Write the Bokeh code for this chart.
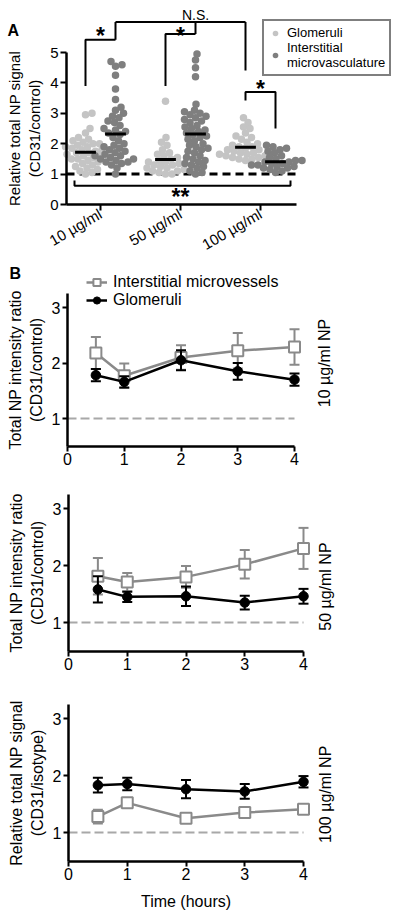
import numpy as np
from bokeh.plotting import figure
from bokeh.models import (Label, Legend, LegendItem, FixedTicker, Range1d)
from bokeh.layouts import column
from bokeh.embed import file_html
from bokeh.resources import INLINE

FONT = "Liberation Sans"

# ---------------- Panel A data ----------------
doses = ["10 µg/ml", "50 µg/ml", "100 µg/ml"]
glom_10 = [3.0, 2.95, 2.5, 2.35, 2.2, 2.15, 2.1, 2.05, 2.0, 2.0, 1.95, 1.9, 1.9, 1.85, 1.8, 1.8,
           1.75, 1.7, 1.7, 1.65, 1.6, 1.6, 1.55, 1.5, 1.5, 1.45, 1.4, 1.35, 1.3, 1.25, 1.2, 1.15,
           1.1, 1.05, 1.0]
inter_10 = [4.7, 4.6, 4.55, 4.25, 3.8, 3.45, 3.2, 3.1, 3.0, 2.9, 2.85, 2.75, 2.7, 2.6, 2.5, 2.45,
            2.4, 2.35, 2.3, 2.2, 2.1, 2.0, 1.95, 1.9, 1.85, 1.8, 1.75, 1.7, 1.65, 1.6, 1.6, 1.55,
            1.5, 1.5, 1.45, 1.4, 1.4, 1.35, 1.3, 1.2, 1.0]
glom_50 = [3.4, 2.2, 2.05, 1.95, 1.8, 1.7, 1.65, 1.6, 1.55, 1.5, 1.45, 1.4, 1.4, 1.35, 1.3, 1.3,
           1.25, 1.2, 1.2, 1.15, 1.1, 1.1, 1.05, 1.0, 1.0]
inter_50 = [4.95, 4.75, 4.5, 4.2, 3.3, 3.1, 3.05, 3.0, 2.95, 2.9, 2.85, 2.8, 2.75, 2.7, 2.6, 2.55,
            2.5, 2.45, 2.4, 2.35, 2.3, 2.25, 2.2, 2.15, 2.1, 2.0, 1.95, 1.9, 1.85, 1.8, 1.75, 1.7,
            1.6, 1.55, 1.5, 1.45, 1.4, 1.35, 1.3, 1.25, 1.2, 1.1, 1.05, 1.0]
glom_100 = [2.85, 2.7, 2.55, 2.5, 2.35, 2.25, 2.2, 2.15, 2.05, 2.0, 1.95, 1.9, 1.9, 1.85, 1.8, 1.8,
            1.75, 1.7, 1.7, 1.7, 1.65, 1.65, 1.6, 1.6, 1.6, 1.55, 1.55, 1.5, 1.5, 1.45]
inter_100 = [1.95, 1.9, 1.85, 1.8, 1.75, 1.7, 1.6, 1.55, 1.5, 1.45, 1.45, 1.4, 1.4, 1.35, 1.35,
             1.3, 1.3, 1.25, 1.25, 1.2, 1.2, 1.15, 1.1, 1.05]
mean_glom = [1.72, 1.48, 1.88]
mean_inter = [2.32, 2.32, 1.41]

# ---------------- Panel B data ----------------
time_h = [0.5, 1, 2, 3, 4]
b10_inter = [2.18, 1.77, 2.10, 2.22, 2.29]
b10_inter_err = [0.29, 0.22, 0.22, 0.32, 0.32]
b10_glom = [1.78, 1.66, 2.05, 1.85, 1.70]
b10_glom_err = [0.11, 0.10, 0.18, 0.15, 0.11]
b50_inter = [1.81, 1.71, 1.80, 2.02, 2.30]
b50_inter_err = [0.32, 0.16, 0.19, 0.25, 0.36]
b50_glom = [1.58, 1.45, 1.46, 1.35, 1.46]
b50_glom_err = [0.23, 0.09, 0.17, 0.12, 0.13]
b100_inter = [1.28, 1.52, 1.25, 1.35, 1.41]
b100_inter_err = [0.12, 0.05, 0.03, 0.04, 0.04]
b100_glom = [1.83, 1.85, 1.76, 1.72, 1.89]
b100_glom_err = [0.13, 0.11, 0.16, 0.13, 0.10]

LIGHT = "#c4c4c4"
DARK = "#7f7f7f"
GRAYLINE = "#8a8a8a"
DASHGRAY = "#a8a8a8"
W = 400


def style_axes(p, size="15px"):
    for ax in (p.xaxis[0], p.yaxis[0]):
        ax.axis_line_width = 2.5
        ax.major_tick_line_width = 2
        ax.major_tick_out = 6
        ax.major_tick_in = 0
        ax.minor_tick_line_color = None
        ax.major_label_text_font = FONT
        ax.major_label_text_font_size = size
        ax.major_label_text_color = "black"
        ax.axis_label_text_font = FONT
        ax.axis_label_text_font_style = "normal"
        ax.axis_label_text_color = "black"
        ax.major_label_standoff = 2
    p.grid.visible = False
    p.outline_line_color = None


def make_fig(height, x_start, pxx, y_end, pxy):
    return figure(width=W, height=height, output_backend="svg", toolbar_location=None,
                  x_range=Range1d(x_start, x_start + W / pxx),
                  y_range=Range1d(y_end - height / pxy, y_end),
                  min_border_left=0, min_border_right=0, min_border_top=0, min_border_bottom=0)


# ---------------- Panel A ----------------
PXA = 80.0    # px per group unit
PYA = 30.4    # px per y unit
OFF = 0.1875
HA = 256
XA0 = 1 - 100 / PXA          # data x at the left edge of the figure
YA1 = 204 / PYA              # data y at the top edge of the figure
X_AX = 0.575                 # data x where the y axis sits
X_END = 3.45

pA = make_fig(HA, XA0, PXA, YA1, PYA)
style_axes(pA)
pA.xaxis.fixed_location = 0
pA.yaxis.fixed_location = X_AX
pA.xaxis.ticker = FixedTicker(ticks=[1, 2, 3])
pA.xaxis.major_label_overrides = {i + 1: d for i, d in enumerate(doses)}
pA.xaxis.major_label_orientation = np.pi / 6
pA.xaxis.bounds = (X_AX, X_END)
pA.yaxis.ticker = FixedTicker(ticks=[0, 1, 2, 3, 4, 5])
pA.yaxis.bounds = (0, 5)
pA.yaxis.axis_label = "Relative total NP signal\n(CD31/control)"
pA.yaxis.axis_label_text_font_size = "15px"
pA.yaxis.axis_label_standoff = 4


def swarm(vals, cx, d=6.2):
    placed = []
    xs = [0.0] * len(vals)
    order = sorted(range(len(vals)), key=lambda i: vals[i])
    cands = [0.0]
    for k in range(1, 80):
        cands += [k * 0.5, -k * 0.5]
    for i in order:
        y = vals[i] * PYA
        for c in cands:
            if all((c - px) ** 2 + (y - py) ** 2 >= d * d for px, py in placed):
                break
        placed.append((c, y))
        xs[i] = cx + c / PXA
    return xs


gvals = [glom_10, glom_50, glom_100]
ivals = [inter_10, inter_50, inter_100]
gx, gy, ix, iy = [], [], [], []
for k in range(3):
    gx += swarm(gvals[k], k + 1 - OFF)
    gy += gvals[k]
    ix += swarm(ivals[k], k + 1 + OFF)
    iy += ivals[k]

pA.segment(x0=[X_AX], y0=[1], x1=[X_END], y1=[1], line_color="black", line_width=3,
           line_dash="8 5")

rg = pA.scatter(gx, gy, size=7.5, color=LIGHT, line_color=None)
ri = pA.scatter(ix, iy, size=7.5, color=DARK, line_color=None)

mx = [k + 1 - OFF for k in range(3)] + [k + 1 + OFF for k in range(3)]
my = mean_glom + mean_inter
pA.segment(x0=[x - 0.13 for x in mx], y0=my, x1=[x + 0.13 for x in mx], y1=my,
           line_color="black", line_width=3)

g_pos = [k + 1 - OFF for k in range(3)]
i_pos = [k + 1 + OFF for k in range(3)]
br_xs, br_ys = [], []
star_br = [(g_pos[0], i_pos[0], 5.42, 3.9, 5.42),
           (g_pos[1], i_pos[1], 5.61, 3.9, 5.61),
           (g_pos[2], i_pos[2], 3.7, 3.42, 2.5)]
for x0, x1, top, lb, rb in star_br:
    br_xs.append([x0, x0, x1, x1])
    br_ys.append([lb, top, top, rb])
br_xs.append([i_pos[0], g_pos[2]]); br_ys.append([6.0, 6.0])
br_xs.append([i_pos[0], i_pos[0]]); br_ys.append([5.42, 6.0])
br_xs.append([i_pos[1], i_pos[1]]); br_ys.append([5.61, 6.0])
br_xs.append([g_pos[2], g_pos[2]]); br_ys.append([4.41, 6.0])
br_xs.append([0.675, 0.675, 3.375, 3.375]); br_ys.append([0.79, 0.62, 0.62, 0.79])
pA.multi_line(br_xs, br_ys, line_color="black", line_width=2)

for (x, y, t) in [(1.0, 5.54, "*"), (2.0, 5.54, "*"), (3.0, 3.8, "*"), (2.0, 0.25, "**")]:
    pA.add_layout(Label(x=x, y=y, text=t, text_align="center", text_baseline="alphabetic",
                        text_font=FONT, text_font_size="23px", text_font_style="bold",
                        text_color="black"))
pA.add_layout(Label(x=i_pos[1], y=6.25, text="N.S.", text_align="center",
                    text_baseline="alphabetic", text_font=FONT, text_font_size="14px",
                    text_color="black"))
pA.add_layout(Label(x=XA0 + 7 / PXA, y=(204 - 30) / PYA, text="A", text_align="left",
                    text_baseline="alphabetic", text_font=FONT, text_font_size="16px",
                    text_font_style="bold", text_color="black"))

legA = Legend(items=[LegendItem(label="Glomeruli", renderers=[rg]),
                     LegendItem(label="Interstitial\nmicrovasculature", renderers=[ri])],
              location=(262, HA - 16 - 60), border_line_color="black", border_line_width=2,
              background_fill_color="white", background_fill_alpha=1,
              label_text_font=FONT, label_text_font_size="13px", label_text_color="black",
              padding=4, spacing=0, margin=0, glyph_width=14, glyph_height=14,
              label_height=12, label_standoff=5)
pA.add_layout(legA)


# ---------------- Panel B ----------------
def panel_b(inter, inter_err, glom, glom_err, height, fig_top, x0px, pxx, y1px, pxy,
            ylabel, rlabel, rlabel_x, rlabel_y, xlabel=None, legend=False, letter=None):
    x_start = -x0px / pxx
    y_end = 1 + (y1px - fig_top) / pxy
    p = make_fig(height, x_start, pxx, y_end, pxy)
    style_axes(p, "16px")
    p.xaxis.fixed_location = 0.5
    p.yaxis.fixed_location = 0
    p.xaxis.ticker = FixedTicker(ticks=[0, 1, 2, 3, 4])
    p.xaxis.bounds = (0, 4)
    p.yaxis.ticker = FixedTicker(ticks=[1, 2, 3])
    p.yaxis.bounds = (0.5, 3.25)
    p.xaxis.major_tick_out = 5
    p.yaxis.major_tick_out = 5
    p.yaxis.axis_label = ylabel
    p.yaxis.axis_label_text_font_size = "16px"
    p.yaxis.axis_label_standoff = 4
    if xlabel:
        p.xaxis.axis_label = xlabel
        p.xaxis.axis_label_text_font_size = "16px"
        p.xaxis.axis_label_standoff = 9

    p.segment(x0=[0], y0=[1], x1=[4], y1=[1], line_color=DASHGRAY, line_width=2,
              line_dash="9 4")

    cap = 5.0 / pxx
    items = []
    for vals, errs, col, mk in [(inter, inter_err, GRAYLINE, "square"),
                                (glom, glom_err, "black", "circle")]:
        lo = [v - e for v, e in zip(vals, errs)]
        hi = [v + e for v, e in zip(vals, errs)]
        p.segment(x0=time_h, y0=lo, x1=time_h, y1=hi, line_color=col, line_width=2)
        p.segment(x0=[t - cap for t in time_h], y0=lo, x1=[t + cap for t in time_h], y1=lo,
                  line_color=col, line_width=2)
        p.segment(x0=[t - cap for t in time_h], y0=hi, x1=[t + cap for t in time_h], y1=hi,
                  line_color=col, line_width=2)
        lr = p.line(time_h, vals, line_color=col, line_width=2.5)
        if mk == "square":
            sr = p.scatter(time_h, vals, marker="square", size=11, fill_color="white",
                           line_color=col, line_width=2)
        else:
            sr = p.scatter(time_h, vals, marker="circle", size=9.5, fill_color="black",
                           line_color="black")
        items.append((lr, sr))

    p.add_layout(Label(x=rlabel_x, y=rlabel_y, text=rlabel, angle=np.pi / 2,
                       text_align="center", text_baseline="middle", text_font=FONT,
                       text_font_size="16px", text_color="black"))
    if legend:
        leg = Legend(items=[LegendItem(label="Interstitial microvessels",
                                       renderers=list(items[0])),
                            LegendItem(label="Glomeruli", renderers=list(items[1]))],
                     location=(86, height - (273 - fig_top) - 36), border_line_color=None,
                     background_fill_alpha=0,
                     label_text_font=FONT, label_text_font_size="16px",
                     label_text_color="black", padding=0, spacing=0, margin=0,
                     glyph_width=21, glyph_height=18, label_height=18, label_standoff=6)
        p.add_layout(leg)
    if letter:
        p.add_layout(Label(x=x_start + 9 / pxx, y=1 + (y1px - 273) / pxy,
                           text=letter, text_align="left", text_baseline="alphabetic",
                           text_font=FONT, text_font_size="16px", text_font_style="bold",
                           text_color="black"))
    return p


pB1 = panel_b(b10_inter, b10_inter_err, b10_glom, b10_glom_err, 216, 256, 67, 56.75, 418, 55.5,
              "Total NP intensity ratio\n(CD31/control)", "10 µg/ml NP", 4.53, 2.0,
              legend=True, letter="B")
pB2 = panel_b(b50_inter, b50_inter_err, b50_glom, b50_glom_err, 218, 472, 68, 58.75, 622, 57.0,
              "Total NP intensity ratio\n(CD31/control)", "50 µg/ml NP", 4.37, 1.63)
pB3 = panel_b(b100_inter, b100_inter_err, b100_glom, b100_glom_err, 224, 690, 68, 58.75, 832,
              57.0, "Relative total NP signal\n(CD31/isotype)", "100 µg/ml NP", 4.37, 1.67,
              xlabel="Time (hours)")

layout = column(pA, pB1, pB2, pB3, spacing=0)
open("out.html", "w").write(file_html(layout, INLINE))
